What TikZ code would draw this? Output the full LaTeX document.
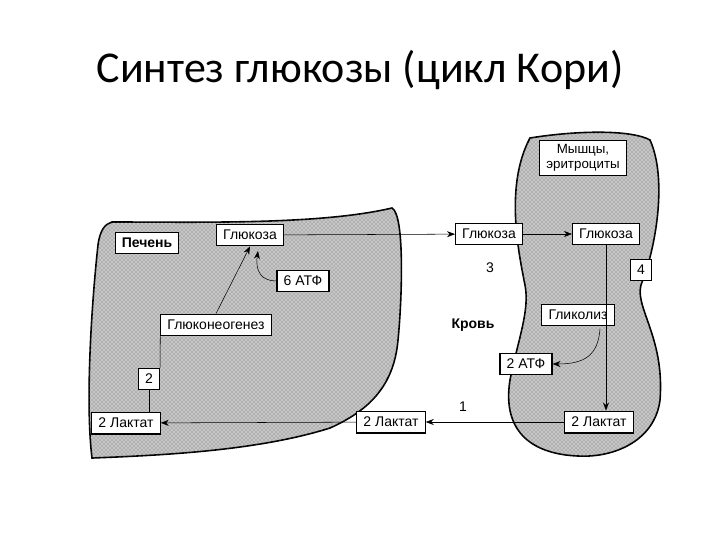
\documentclass[tikz,border=0pt]{standalone}
\usepackage{fontspec}
\setmainfont{Liberation Sans}
\newfontfamily\titlefont{Carlito}
\usetikzlibrary{patterns,arrows.meta}
\begin{document}
\begin{tikzpicture}[x=0.75pt,y=-0.75pt,
  bx/.style={draw,thick,fill=white,inner xsep=5pt,inner ysep=4.5pt,font=\fontsize{10.5}{12}\selectfont,align=center},
  bold/.style={bx,font=\bfseries\fontsize{10.5}{12}\selectfont},
  lbl/.style={font=\fontsize{10.5}{12}\selectfont},
  arr/.style={-{Stealth[length=6pt]},thin},
  organ/.style={draw=black,very thick,fill=gray!45,postaction={pattern=crosshatch dots,pattern color=gray!85!black}}]
\useasboundingbox (0,0) rectangle (720,540);
\node[font=\titlefont\fontsize{33}{36}\selectfont] (title) at (360,70) {Синтез глюкозы (цикл Кори)};
% liver
\path[organ] (112,222) .. controls (200,222) and (320,225) .. (392,208)
  .. controls (405,215) and (402,300) .. (398,340)
  .. controls (394,385) and (370,410) .. (330,428)
  .. controls (260,450) and (170,455) .. (92,458)
  .. controls (85,400) and (92,300) .. (98,245)
  .. controls (100,230) and (105,224) .. (112,222) -- cycle;
% muscle
\path[organ] (530,138) .. controls (580,130) and (632,130) .. (650,140)
  .. controls (668,180) and (655,250) .. (642,282)
  .. controls (632,305) and (665,335) .. (660,400)
  .. controls (655,440) and (615,458) .. (578,456)
  .. controls (530,454) and (502,430) .. (510,380)
  .. controls (518,340) and (530,310) .. (525,285)
  .. controls (518,250) and (505,185) .. (530,138) -- cycle;
\node[bold] (pech) at (147,243) {Печень};
\node[bx] (glL) at (250,235) {Глюкоза};
\node[bx] (atf6) at (303,281) {6 АТФ};
\node[bx] (gng) at (216,325) {Глюконеогенез};
\node[bx] (two) at (149,379) {2};
\node[bx] (lacL) at (126,423) {2 Лактат};
\node[bx] (glB) at (489,234) {Глюкоза};
\node[bx] (glM) at (606,234) {Глюкоза};
\node[bx,font=\fontsize{10}{11}\selectfont,inner ysep=3pt] (mus) at (583,158) {Мышцы,\\эритроциты};
\node[lbl] (n3) at (490,268) {3};
\node[bx] (n4) at (641,270) {4};
\node[lbl,font=\bfseries\fontsize{10.5}{12}\selectfont] (krov) at (473,325) {Кровь};
\node[bx] (glik) at (578,315) {Гликолиз};
\node[bx] (atf2) at (526,364) {2 АТФ};
\node[lbl] (n1) at (463,407) {1};
\node[bx] (lacB) at (391,422) {2 Лактат};
\node[bx] (lacM) at (599,422) {2 Лактат};
\draw[arr] (glL) -- (glB);
\draw[arr] (glB) -- (glM);
\draw[arr] (glM.south) coordinate (a) -- (a |- lacM.north);
\draw[arr] (lacM) -- (lacB);
\draw[arr] (lacB) -- (lacL);
\draw (lacL.north -| two) -- (two.south);
\draw (two.north east) -- (gng.south west);
\draw[arr] (gng.north) -- (glL.south);
\draw[arr] (atf6.west) .. controls (262,281) and (255,272) .. (258,251);
\draw[arr] (600,329) .. controls (598,355) and (585,364) .. (atf2.east);
\end{tikzpicture}
\end{document}
